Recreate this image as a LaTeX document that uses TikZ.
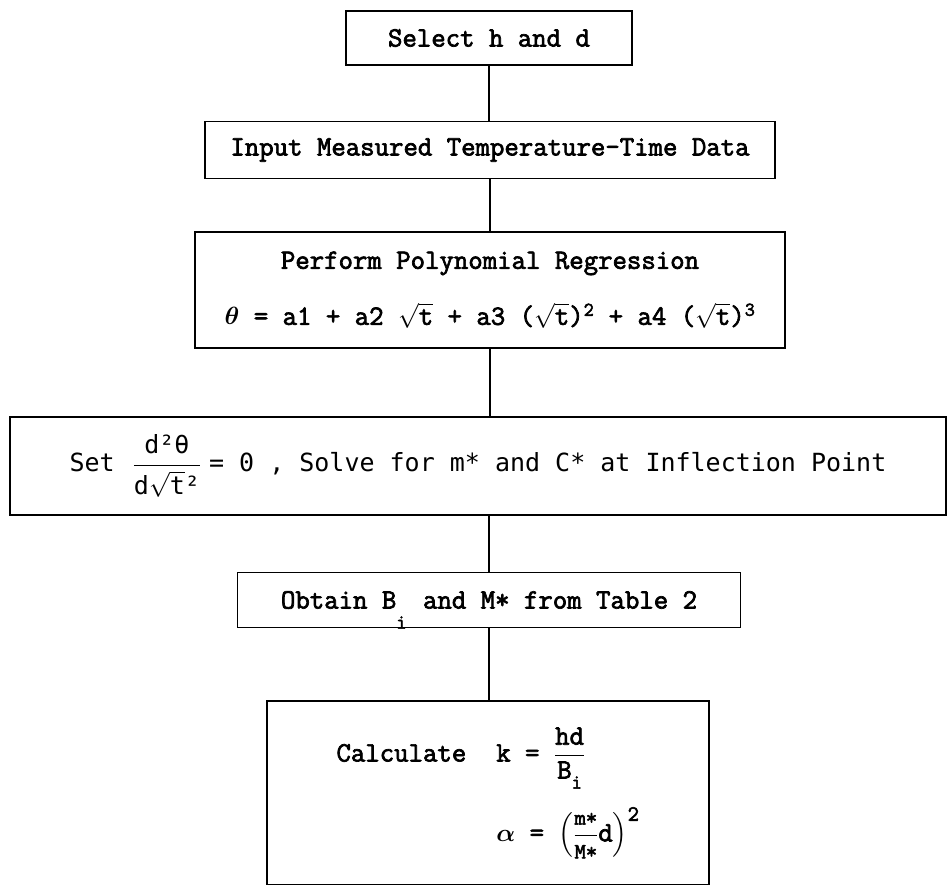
\documentclass[tikz,border=0pt]{standalone}
\usepackage{amsmath}
\usepackage{fontspec}
\newfontfamily\typefont{Latin Modern Mono}[FakeBold=2.5]
\newfontfamily\condmono{DejaVu Sans Mono}
\usepackage{tikz}

\newcommand{\rt}[1]{$\sqrt{\hbox{#1}}$}
\newcommand{\lowidx}[2]{\raisebox{#1}[0pt][0pt]{\fontsize{20}{20}\selectfont #2}}
\newcommand{\smallish}{\fontsize{22}{24}\selectfont}

\begin{document}
\begin{tikzpicture}[x=1pt, y=-1pt,
        box/.style={draw, line width=1.3pt, align=center, inner sep=0pt, font=\typefont\fontsize{28}{32}\selectfont},
        setbox/.style={box, font=\condmono\fontsize{25}{30}\selectfont},
        link/.style={line width=1.3pt}
      ]
        \useasboundingbox (0,0) rectangle (947,884);
        \node[box, minimum width=286, minimum height=54] (sel) at (489,38) {Select h and d};
        \node[box, minimum width=570, minimum height=57] (inp) at (490,150) {Input Measured Temperature-Time Data};
        \node[box, minimum width=590, minimum height=116] (reg) at (490,290) {Perform Polynomial Regression\\[24pt]
          $\boldsymbol{\theta}$ = a1 + a2 \rt{t} + a3 (\rt{t})\textsuperscript{2} + a4 (\rt{t})\textsuperscript{3}};
        \node[setbox, minimum width=936, minimum height=98] (set) at (478,466) {Set\hspace{18pt}$\dfrac{\hbox{d²θ}\rule[-8pt]{0pt}{8pt}}{\rule{0pt}{26pt}\hbox{d}\sqrt{\hbox{t}}\hbox{²}}$\hspace{8pt}= 0 , Solve for m* and C* at Inflection Point};
        \node[box, minimum width=503, minimum height=55] (obt) at (489,600) {Obtain B\lowidx{-20pt}{i}\hspace{2pt} and M* from Table 2};
        \node[box, minimum width=442, minimum height=184] (calc) at (488,793) {\begin{tabular}{@{}l@{\hspace{30pt}}l@{}}
          Calculate & k = $\dfrac{\hbox{hd}}{\hbox{B\lowidx{-10pt}{i}}}$ \\[36pt]
           & $\boldsymbol{\alpha}$ = $\left(\dfrac{\hbox{\smallish m*}}{\hbox{\smallish M*}}\hbox{d}\right)^{\hbox{\smallish 2}}$
        \end{tabular}};
        \draw[link] (sel.south) -- (sel.south |- inp.north);
        \draw[link] (inp.south) -- (inp.south |- reg.north);
        \draw[link] (reg.south) -- (reg.south |- set.north);
        \draw[link] (obt.north |- set.south) -- (obt.north);
        \draw[link] (obt.south) -- (obt.south |- calc.north);
      \end{tikzpicture}
\end{document}
